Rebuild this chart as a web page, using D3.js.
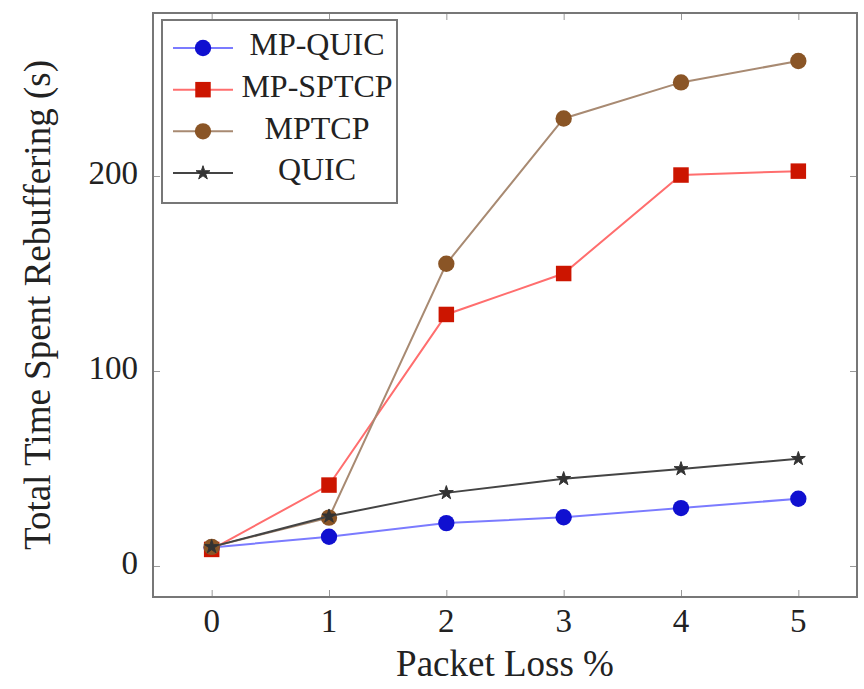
<!DOCTYPE html>
<html>
<head>
<meta charset="utf-8">
<script src="https://cdn.jsdelivr.net/npm/d3@7"></script>
<style>
  body { margin: 0; background: #fff; }
  text { font-family: "Liberation Serif", "Times New Roman", serif; fill: #222; }
</style>
</head>
<body>
<script>
// data
var lossPct = [0, 1, 2, 3, 4, 5];
var mpQuic  = [9.5, 15, 22, 25, 29.7, 34.5];
var mpSptcp = [8.5, 41.5, 129, 150, 200.5, 202.5];
var mptcp   = [9.8, 24.8, 155, 229.5, 248, 259];
var quic    = [9.8, 25.5, 37.5, 44.7, 49.8, 55];
var yTicks = [0, 100, 200];

var series = [
  {name: "MP-QUIC",  values: mpQuic,  line: "#7b7bff", mark: "#1010d0", shape: "circle"},
  {name: "MP-SPTCP", values: mpSptcp, line: "#ff6e6e", mark: "#cc1500", shape: "square"},
  {name: "MPTCP",    values: mptcp,   line: "#a88a72", mark: "#8a5526", shape: "circle"},
  {name: "QUIC",     values: quic,    line: "#444444", mark: "#333333", shape: "star"}
];

var width = 864, height = 689;
var m = {left: 153, right: 857, top: 13, bottom: 597};

var svg = d3.select("body").append("svg")
  .attr("width", width).attr("height", height);

var x = d3.scaleLinear().domain([-0.5, 5.5]).range([m.left, m.right]);
var y = d3.scaleLinear().domain([-15.9, 283.6]).range([m.bottom, m.top]);

// ticks inside the frame, on all four sides
var tickCol = "#999";
function styleTicks(g) {
  g.select(".domain").remove();
  g.selectAll("line").attr("stroke", tickCol);
}
svg.append("g").attr("transform", "translate(0," + m.bottom + ")")
  .call(d3.axisBottom(x).tickValues(lossPct).tickSize(-7).tickFormat("")).call(styleTicks);
svg.append("g").attr("transform", "translate(0," + m.top + ")")
  .call(d3.axisTop(x).tickValues(lossPct).tickSize(-7).tickFormat("")).call(styleTicks);
svg.append("g").attr("transform", "translate(" + m.left + ",0)")
  .call(d3.axisLeft(y).tickValues(yTicks).tickSize(-7).tickFormat("")).call(styleTicks);
svg.append("g").attr("transform", "translate(" + m.right + ",0)")
  .call(d3.axisRight(y).tickValues(yTicks).tickSize(-7).tickFormat("")).call(styleTicks);

// tick labels
svg.append("g").selectAll("text").data(lossPct).enter().append("text")
  .attr("x", function(d) { return x(d); })
  .attr("y", 624)
  .attr("text-anchor", "middle")
  .attr("dominant-baseline", "middle")
  .attr("font-size", 33)
  .text(function(d) { return d; });

svg.append("g").selectAll("text").data(yTicks).enter().append("text")
  .attr("x", m.left - 15)
  .attr("y", function(d) { return y(d); })
  .attr("text-anchor", "end")
  .attr("dominant-baseline", "middle")
  .attr("font-size", 33)
  .text(function(d) { return d; });

// axis titles
svg.append("text")
  .attr("x", x(2.5)).attr("y", 668)
  .attr("text-anchor", "middle")
  .attr("dominant-baseline", "middle")
  .attr("font-size", 37)
  .text("Packet Loss %");

svg.append("text")
  .attr("transform", "translate(42,305) rotate(-90)")
  .attr("text-anchor", "middle")
  .attr("dominant-baseline", "middle")
  .attr("font-size", 37)
  .text("Total Time Spent Rebuffering (s)");

function symbolFor(shape) {
  if (shape === "square") return d3.symbol().type(d3.symbolSquare).size(240);
  if (shape === "star") return d3.symbol().type(d3.symbolStar).size(60);
  return d3.symbol().type(d3.symbolCircle).size(210);
}

var line = d3.line()
  .x(function(d, i) { return x(lossPct[i]); })
  .y(function(d) { return y(d); });

var plot = svg.append("g");
series.forEach(function(s) {
  plot.append("path")
    .attr("d", line(s.values))
    .attr("fill", "none")
    .attr("stroke", s.line)
    .attr("stroke-width", 2);
  plot.append("g").selectAll("path").data(s.values).enter().append("path")
    .attr("transform", function(d, i) { return "translate(" + x(lossPct[i]) + "," + y(d) + ")"; })
    .attr("d", symbolFor(s.shape)())
    .attr("fill", s.mark)
    .attr("stroke", s.shape === "star" ? s.mark : "none")
    .attr("stroke-width", 1);
});

// frame
svg.append("rect")
  .attr("x", m.left).attr("y", m.top)
  .attr("width", m.right - m.left).attr("height", m.bottom - m.top)
  .attr("fill", "none").attr("stroke", "#777").attr("stroke-width", 2);

// legend
var lg = svg.append("g");
lg.append("rect")
  .attr("x", 162).attr("y", 20).attr("width", 235).attr("height", 183)
  .attr("fill", "#fff").attr("stroke", "#777").attr("stroke-width", 2);

var rowY = d3.scalePoint().domain(series.map(function(s) { return s.name; })).range([48, 173]);
series.forEach(function(s) {
  var yy = rowY(s.name);
  lg.append("line").attr("x1", 173).attr("x2", 233).attr("y1", yy).attr("y2", yy)
    .attr("stroke", s.line).attr("stroke-width", 2);
  lg.append("path")
    .attr("transform", "translate(203," + yy + ")")
    .attr("d", symbolFor(s.shape)())
    .attr("fill", s.mark)
    .attr("stroke", s.shape === "star" ? s.mark : "none");
  lg.append("text")
    .attr("x", 317).attr("y", yy)
    .attr("text-anchor", "middle")
    .attr("dominant-baseline", "middle")
    .attr("font-size", 32)
    .text(s.name);
});
</script>
</body>
</html>
